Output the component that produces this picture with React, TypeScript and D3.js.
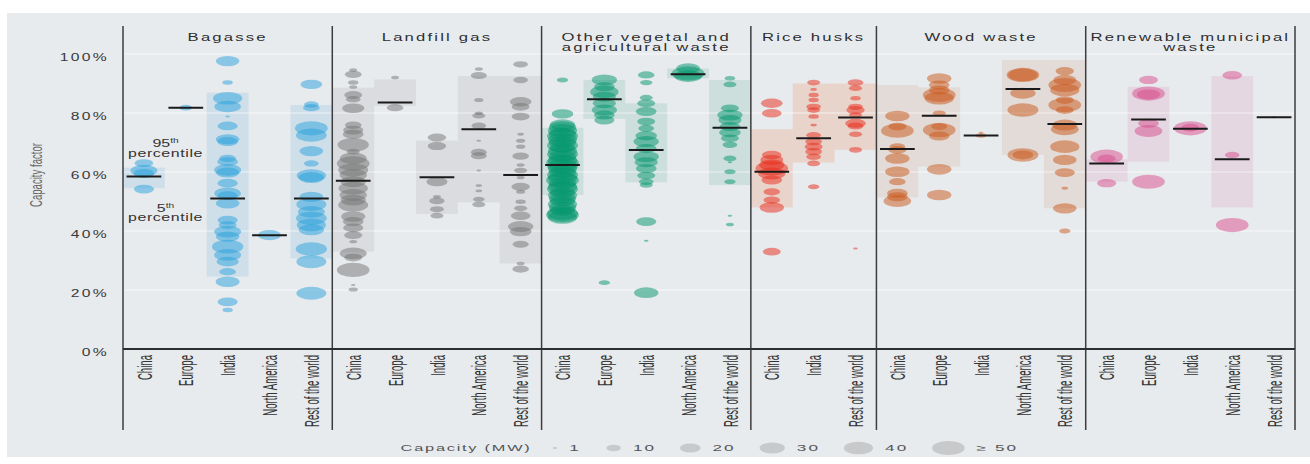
import React from "react";
import * as d3 from "d3";

const W = 1310;
const H = 464;

const panelTitles = [
  ["Bagasse"],
  ["Landfill gas"],
  ["Other vegetal and", "agricultural waste"],
  ["Rice husks"],
  ["Wood waste"],
  ["Renewable municipal", "waste"],
];
const fiveRegions = ["China", "Europe", "India", "North America", "Rest of the world"];
const riceRegions = ["China", "India", "Rest of the world"];
const panelRegions = [fiveRegions, fiveRegions, fiveRegions, riceRegions, fiveRegions, fiveRegions];

const yTicks = [0, 20, 40, 60, 80, 100];

const dotColors = ["#2aa2dc", "#737373", "#00966c", "#e82a18", "#c9581a", "#d84c8b"];
const bandColors = ["#3c9fd8", "#8a8a8a", "#2b9a78", "#f07a44", "#c8824e", "#d06698"];

// plants: [region, capacity factor (%), capacity (MW)]
const bagasse: [string, number, number][] = [
  ["China", 63, 16], ["China", 60.5, 34], ["China", 59.5, 20], ["China", 54.2, 19],
  ["Europe", 81.8, 8],
  ["India", 97.6, 26], ["India", 90.3, 5], ["India", 85, 40], ["India", 82.2, 33], ["India", 78.8, 1],
  ["India", 75.6, 19], ["India", 71.1, 26], ["India", 70.3, 20], ["India", 64.6, 13], ["India", 63.5, 20],
  ["India", 60.7, 34], ["India", 59.8, 25], ["India", 56.2, 19], ["India", 52.8, 33], ["India", 52, 19],
  ["India", 49.4, 26], ["India", 43.7, 19], ["India", 42, 15], ["India", 39.8, 34], ["India", 38.1, 26],
  ["India", 34.7, 46], ["India", 31.9, 34], ["India", 29.6, 23], ["India", 26.2, 13], ["India", 22.8, 27],
  ["India", 16, 19], ["India", 13.2, 5],
  ["North America", 38.6, 25],
  ["Rest of the world", 89.7, 22], ["Rest of the world", 82.9, 10], ["Rest of the world", 81.8, 13],
  ["Rest of the world", 74.8, 50], ["Rest of the world", 72.5, 44], ["Rest of the world", 67.1, 26],
  ["Rest of the world", 62.9, 10], ["Rest of the world", 58.8, 40], ["Rest of the world", 58.1, 30],
  ["Rest of the world", 51.6, 26], ["Rest of the world", 49, 42], ["Rest of the world", 46.5, 34],
  ["Rest of the world", 44.3, 44], ["Rest of the world", 42, 40], ["Rest of the world", 40.4, 30],
  ["Rest of the world", 33.9, 46], ["Rest of the world", 29.6, 42], ["Rest of the world", 18.9, 42],
];

const landfill: [string, number, number][] = [
  ["China", 94.6, 3], ["China", 93.1, 13], ["China", 90.3, 5], ["China", 88.8, 3], ["China", 86.1, 15],
  ["China", 84.7, 10], ["China", 81.6, 23], ["China", 75.9, 13], ["China", 74.2, 19], ["China", 72.8, 20],
  ["China", 69.2, 46], ["China", 66.9, 8], ["China", 64.6, 34], ["China", 62.9, 50], ["China", 60.7, 42],
  ["China", 59, 35], ["China", 56.7, 30], ["China", 54.5, 40], ["China", 52.2, 35], ["China", 50.5, 30],
  ["China", 48.8, 42], ["China", 44.9, 27], ["China", 43.2, 20], ["China", 41.1, 19], ["China", 38.6, 15],
  ["China", 36.4, 3], ["China", 32.4, 34], ["China", 31, 15], ["China", 26.8, 50], ["China", 21.7, 1],
  ["China", 20.2, 4],
  ["Europe", 92, 3], ["Europe", 81.8, 13],
  ["India", 71.7, 16], ["India", 68.8, 16], ["India", 56.7, 21], ["India", 51.6, 3], ["India", 50.2, 11],
  ["India", 47.4, 9], ["India", 45.2, 8],
  ["North America", 94.9, 3], ["North America", 92.7, 12], ["North America", 84.4, 4],
  ["North America", 79.9, 3], ["North America", 79.1, 8], ["North America", 75.7, 10],
  ["North America", 70.6, 1], ["North America", 66.7, 12], ["North America", 65.5, 12],
  ["North America", 60.5, 1], ["North America", 55.4, 2], ["North America", 53.6, 2],
  ["North America", 50.8, 6], ["North America", 49, 8],
  ["Rest of the world", 96.5, 10], ["Rest of the world", 91.2, 10], ["Rest of the world", 83.8, 22],
  ["Rest of the world", 82.1, 15], ["Rest of the world", 78.8, 15], ["Rest of the world", 72.8, 2],
  ["Rest of the world", 70.6, 4], ["Rest of the world", 68.6, 4], ["Rest of the world", 65.4, 13],
  ["Rest of the world", 62.4, 3], ["Rest of the world", 60.5, 8], ["Rest of the world", 58.1, 3],
  ["Rest of the world", 55, 16], ["Rest of the world", 53.3, 4], ["Rest of the world", 49.9, 5],
  ["Rest of the world", 47.7, 8], ["Rest of the world", 45.2, 18], ["Rest of the world", 41.5, 30],
  ["Rest of the world", 39.8, 22], ["Rest of the world", 35.5, 12], ["Rest of the world", 29, 3],
  ["Rest of the world", 27.1, 13],
];

const vegetal: [string, number, number][] = [
  ["China", 91.2, 6], ["China", 79.7, 22], ["China", 76, 30], ["China", 75.2, 35], ["China", 74.1, 40],
  ["China", 73, 35], ["China", 72.2, 45], ["China", 71, 40], ["China", 70.1, 35], ["China", 69, 45],
  ["China", 68.3, 30], ["China", 67.1, 40], ["China", 66, 45], ["China", 65.2, 35], ["China", 64, 40],
  ["China", 63.1, 50], ["China", 62, 45], ["China", 61.2, 40], ["China", 60, 35], ["China", 59.1, 45],
  ["China", 58, 40], ["China", 57.2, 50], ["China", 56.1, 35], ["China", 55, 40], ["China", 54.2, 45],
  ["China", 53, 30], ["China", 52.1, 40], ["China", 51, 35], ["China", 50.2, 30], ["China", 49.1, 40],
  ["China", 48, 35], ["China", 47.1, 30], ["China", 46, 45], ["China", 45.4, 50], ["China", 44.6, 40],
  ["Europe", 91.2, 30], ["Europe", 88.9, 20], ["Europe", 87.2, 38], ["Europe", 85.5, 25], ["Europe", 83.3, 25],
  ["Europe", 81, 30], ["Europe", 79.3, 20], ["Europe", 77.6, 19], ["Europe", 22.5, 6],
  ["India", 92.9, 13], ["India", 90.3, 7], ["India", 85.2, 8], ["India", 83.3, 15], ["India", 80.5, 20],
  ["India", 77.1, 15], ["India", 74.8, 12], ["India", 72.3, 22], ["India", 70.3, 30], ["India", 68, 20],
  ["India", 65.2, 30], ["India", 63.3, 25], ["India", 61.2, 20], ["India", 58.8, 15], ["India", 56.7, 10],
  ["India", 55.6, 8], ["India", 43.2, 19], ["India", 36.7, 1], ["India", 19.1, 28],
  ["North America", 95.1, 26], ["North America", 93.4, 50], ["North America", 92.5, 35],
  ["Rest of the world", 91.8, 5], ["Rest of the world", 89.7, 8], ["Rest of the world", 81.6, 15],
  ["Rest of the world", 79.3, 30], ["Rest of the world", 77.6, 25], ["Rest of the world", 75.4, 20],
  ["Rest of the world", 73.4, 22], ["Rest of the world", 71.4, 15], ["Rest of the world", 69.2, 10],
  ["Rest of the world", 64.6, 8], ["Rest of the world", 63.3, 1], ["Rest of the world", 60.1, 6],
  ["Rest of the world", 56.7, 6], ["Rest of the world", 45.2, 1], ["Rest of the world", 42.2, 3],
];

const rice: [string, number, number][] = [
  ["China", 83.3, 22], ["China", 79.9, 18], ["China", 65.8, 18], ["China", 64.1, 25], ["China", 62.4, 30],
  ["China", 61.2, 50], ["China", 59.5, 35], ["China", 57.3, 20], ["China", 53.3, 13], ["China", 50.5, 13],
  ["China", 48, 28], ["China", 33, 15],
  ["India", 90.3, 8], ["India", 88, 2], ["India", 86.1, 5], ["India", 84.4, 5], ["India", 82.1, 10],
  ["India", 81, 8], ["India", 78.8, 5], ["India", 75.9, 2], ["India", 72.5, 10], ["India", 70.3, 13],
  ["India", 68.6, 15], ["India", 66.9, 13], ["India", 65.2, 10], ["India", 62.9, 8], ["India", 55, 6],
  ["Rest of the world", 90.3, 12], ["Rest of the world", 88.4, 8], ["Rest of the world", 85, 5],
  ["Rest of the world", 82.1, 10], ["Rest of the world", 81, 16], ["Rest of the world", 79.3, 8],
  ["Rest of the world", 76.5, 20], ["Rest of the world", 75.6, 12], ["Rest of the world", 72.8, 8],
  ["Rest of the world", 67.5, 8], ["Rest of the world", 34.1, 1],
];

const wood: [string, number, number][] = [
  ["China", 79, 28], ["China", 75.4, 15], ["China", 74, 50], ["China", 68.6, 12], ["China", 67.5, 15],
  ["China", 64.6, 28], ["China", 60.1, 28], ["China", 56.7, 13], ["China", 52.8, 20], ["China", 51.6, 20],
  ["China", 50.2, 36],
  ["Europe", 91.7, 28], ["Europe", 89.5, 20], ["Europe", 87.8, 20], ["Europe", 86.1, 50], ["Europe", 85, 40],
  ["Europe", 79.9, 8], ["Europe", 75.4, 12], ["Europe", 74.2, 50], ["Europe", 72.2, 20], ["Europe", 60.9, 28],
  ["Europe", 52.2, 28],
  ["India", 73.3, 1], ["India", 72.4, 5],
  ["North America", 92.9, 50], ["North America", 92.9, 40], ["North America", 86.7, 30],
  ["North America", 81, 45], ["North America", 65.8, 45], ["North America", 65.8, 20],
  ["Rest of the world", 94.2, 16], ["Rest of the world", 91.2, 25], ["Rest of the world", 89.5, 50],
  ["Rest of the world", 87.8, 40], ["Rest of the world", 84.4, 15], ["Rest of the world", 82.7, 50],
  ["Rest of the world", 81, 15], ["Rest of the world", 75.9, 30], ["Rest of the world", 74.5, 36],
  ["Rest of the world", 68.6, 40], ["Rest of the world", 64.1, 26], ["Rest of the world", 59.8, 19],
  ["Rest of the world", 54.5, 2], ["Rest of the world", 47.7, 26], ["Rest of the world", 40, 6],
];

const municipal: [string, number, number][] = [
  ["China", 65.2, 50], ["China", 64.6, 15], ["China", 56.2, 17],
  ["Europe", 91.2, 17], ["Europe", 86.6, 50], ["Europe", 86.3, 25], ["Europe", 76.5, 20], ["Europe", 73.9, 36],
  ["Europe", 56.7, 50],
  ["India", 74.8, 50], ["India", 75, 15],
  ["North America", 92.8, 18], ["North America", 65.8, 10], ["North America", 42, 50],
  ["Rest of the world", 78.6, 1],
];

const plants = [bagasse, landfill, vegetal, rice, wood, municipal];

// stats: [region, 5th percentile, median, 95th percentile]
const bagasseStats: [string, number, number, number][] = [
  ["China", 54.5, 58.5, 61.5], ["Europe", 81.8, 81.8, 81.8], ["India", 24.5, 51, 86.9],
  ["North America", 38.6, 38.6, 38.6], ["Rest of the world", 30.7, 51, 82.7],
];
const landfillStats: [string, number, number, number][] = [
  ["China", 33, 57, 88.6], ["Europe", 82.4, 83.6, 91.4], ["India", 45.8, 58.2, 70.6],
  ["North America", 49.7, 74.5, 92.5], ["Rest of the world", 29, 59, 92.5],
];
const vegetalStats: [string, number, number, number][] = [
  ["China", 52.2, 62.4, 75], ["Europe", 78, 84.7, 91.2], ["India", 56.5, 67.5, 83.3],
  ["North America", 91.8, 93.1, 95.1], ["Rest of the world", 55.6, 75, 91.2],
];
const riceStats: [string, number, number, number][] = [
  ["China", 48, 60.1, 74.5], ["India", 63.2, 71.4, 90], ["Rest of the world", 67.5, 78.5, 90],
];
const woodStats: [string, number, number, number][] = [
  ["China", 51.4, 67.8, 89.5], ["Europe", 61.8, 79.1, 88.7], ["India", 72.4, 72.4, 72.4],
  ["North America", 65.8, 88.1, 98], ["Rest of the world", 47.7, 76.3, 98],
];
const municipalStats: [string, number, number, number][] = [
  ["China", 56.7, 62.9, 64.3], ["Europe", 63.5, 77.8, 88.9], ["India", 74.7, 74.7, 74.7],
  ["North America", 48, 64.3, 92.5], ["Rest of the world", 78.6, 78.6, 78.6],
];
const stats = [bagasseStats, landfillStats, vegetalStats, riceStats, woodStats, municipalStats];

const legendSizes = [1, 10, 20, 30, 40, 50];
const legendLabels = ["1", "10", "20", "30", "40", "\u2265 50"];

const FONT = "'Liberation Sans', Arial, sans-serif";
const STRETCH = 2.3; // ellipse width / height

function Wide({ x, y, sx = 1.45, size, ls = 0, anchor = "middle", fill = "#333", children }: any) {
  return (
    <text transform={`translate(${x},${y}) scale(${sx},1)`} textAnchor={anchor}
      fontSize={size} letterSpacing={ls} fill={fill} fontFamily={FONT}>
      {children}
    </text>
  );
}

export default function App() {
  const left = 123, right = 1295, top = 26, bottom = 430;
  const keys = panelRegions.flatMap((rs, i) => rs.map(r => `${i}|${r}`));
  const x = d3.scaleBand().domain(keys).range([left, right]).padding(0);
  const bw = x.bandwidth();
  const y = d3.scaleLinear().domain([0, 100]).range([349, 54]);
  const ry = d3.scaleSqrt().domain([0, 50]).range([0, 7.1]).clamp(true);

  const panelX0 = panelRegions.map((rs, i) => x(`${i}|${rs[0]}`)!);
  const panelX1 = panelRegions.map((rs, i) => x(`${i}|${rs[rs.length - 1]}`)! + bw);

  // legend layout
  let lx = 555;
  const legendItems = legendSizes.map((s, i) => {
    const r = ry(s) * STRETCH;
    const cx = i === 0 ? lx : lx + r;
    const labelX = cx + r + 12;
    lx = labelX + legendLabels[i].length * 10 + 27;
    return { s, cx, labelX, label: legendLabels[i] };
  });

  return (
    <div style={{ position: "absolute", left: 0, top: 0 }}>
      <svg width={W} height={H} style={{ display: "block" }}>
        <rect x={0} y={0} width={W} height={H} fill="#fff" />
        <rect x={7} y={13} width={W - 7} height={444} fill="#e8ebee" />

        {/* percentile bands */}
        {stats.map((rows, pi) =>
          rows.filter(d => d[3] > d[1]).map(d => (
            <rect key={`b${pi}${d[0]}`} x={x(`${pi}|${d[0]}`)} width={bw}
              y={y(d[3])} height={y(d[1]) - y(d[3])}
              fill={bandColors[pi]} opacity={pi === 3 ? 0.2 : 0.14} />
          ))
        )}

        {/* gridlines */}
        {yTicks.filter(t => t > 0).map(t => (
          <line key={`g${t}`} x1={left} x2={right} y1={y(t)} y2={y(t)} stroke="#fff" strokeOpacity={0.6} />
        ))}

        {/* plants */}
        {plants.map((rows, pi) =>
          [...rows].sort((a, b) => b[2] - a[2]).map((d, j) => {
            const r = ry(d[2]);
            return (
              <ellipse key={`p${pi}-${j}`} cx={x(`${pi}|${d[0]}`)! + bw / 2} cy={y(d[1])}
                rx={r * STRETCH} ry={r} fill={dotColors[pi]} fillOpacity={0.5} />
            );
          })
        )}

        {/* medians */}
        {stats.map((rows, pi) =>
          rows.map(d => (
            <line key={`m${pi}${d[0]}`} x1={x(`${pi}|${d[0]}`)! + bw * 0.085} x2={x(`${pi}|${d[0]}`)! + bw * 0.915}
              y1={y(d[2])} y2={y(d[2])} stroke="#1a1a1a" strokeWidth={2} />
          ))
        )}

        {/* panel separators and zero line */}
        {[...panelX0, right].map((px, i) => (
          <line key={`s${i}`} x1={px} x2={px} y1={top} y2={bottom} stroke="#3d3d3d" strokeWidth={1.5} />
        ))}
        <line x1={left} x2={right} y1={y(0)} y2={y(0)} stroke="#2e2e2e" strokeWidth={2.2} />

        {/* y axis */}
        {yTicks.map(t => (
          <Wide key={`t${t}`} x={109} y={y(t) + 7} size={10.8} ls={1.6} anchor="end" fill="#3a3a3a">{`${t}%`}</Wide>
        ))}
        <text transform={`translate(35.5,175) scale(1.8,1) rotate(-90)`} textAnchor="middle" dy="0.35em"
          fontSize={9.6} fill="#666" fontFamily={FONT}>Capacity factor</text>

        {/* panel titles */}
        {panelTitles.map((lines, i) => lines.map((t, k) => (
          <Wide key={`h${i}${k}`} x={(panelX0[i] + panelX1[i]) / 2} y={40.7 + k * 10.3} size={11.5} ls={1.5}
            fill="#2e2e2e">{t}</Wide>
        )))}

        {/* region labels */}
        {keys.map(k => {
          const r = k.split("|")[1];
          return (
            <text key={`r${k}`} transform={`translate(${x(k)! + bw / 2},355) scale(2.2,1) rotate(-90)`}
              textAnchor="end" dy="0.36em" fontSize={9.6} fill="#333" fontFamily={FONT}>{r}</text>
          );
        })}

        {/* percentile annotation */}
        <Wide x={165.5} y={147} size={11}>95<tspan fontSize={7} dy={-4}>th</tspan></Wide>
        <Wide x={165.5} y={156.5} size={11} ls={0.4}>percentile</Wide>
        <Wide x={165.5} y={211.5} size={11}>5<tspan fontSize={7} dy={-4}>th</tspan></Wide>
        <Wide x={165.5} y={221} size={11} ls={0.4}>percentile</Wide>

        {/* legend */}
        <Wide x={400.6} y={451} size={8.4} sx={1.95} ls={0.9} anchor="start" fill="#555">Capacity (MW)</Wide>
        {legendItems.map(it => (
          <g key={`l${it.s}`}>
            <ellipse cx={it.cx} cy={448} rx={ry(it.s) * STRETCH} ry={ry(it.s)} fill="#9a9a9a" fillOpacity={0.42} />
            <Wide x={it.labelX} y={451} size={8.6} sx={2.0} ls={1} anchor="start" fill="#555">{it.label}</Wide>
          </g>
        ))}
      </svg>
    </div>
  );
}
